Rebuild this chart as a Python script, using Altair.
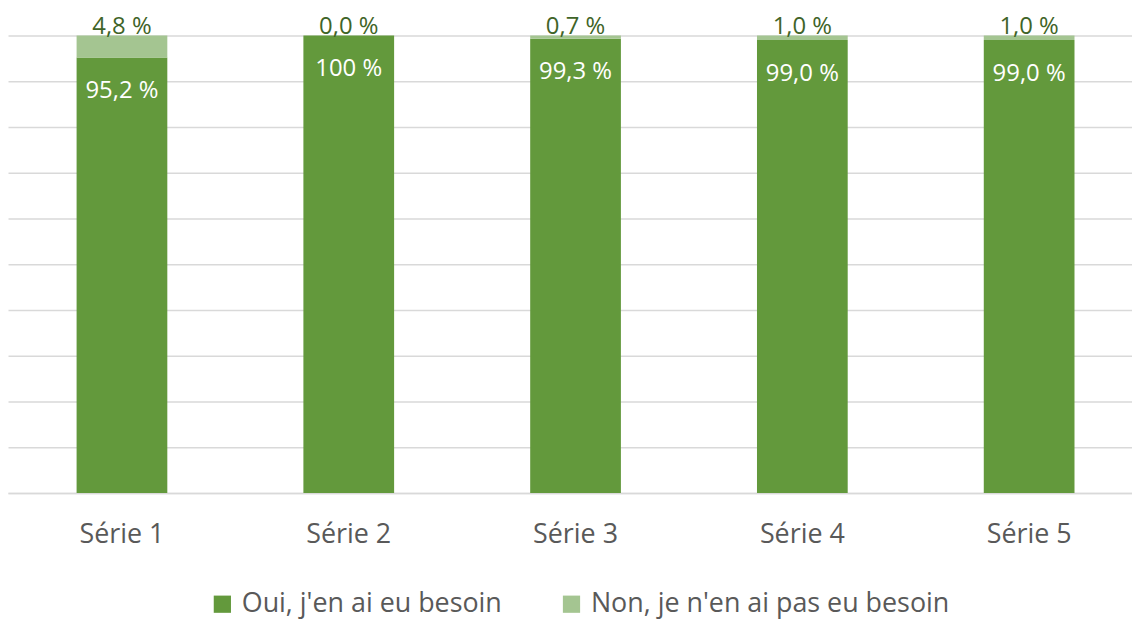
import altair as alt
import pandas as pd

categories = ["Série 1", "Série 2", "Série 3", "Série 4", "Série 5"]
oui_values = [95.2, 100.0, 99.3, 99.0, 99.0]
non_values = [4.8, 0.0, 0.7, 1.0, 1.0]
oui_labels = ["95,2 %", "100 %", "99,3 %", "99,0 %", "99,0 %"]
non_labels = ["4,8 %", "0,0 %", "0,7 %", "1,0 %", "1,0 %"]
series_names = ["Oui, j'en ai eu besoin", "Non, je n'en ai pas eu besoin"]
series_colors = ["#63993C", "#A4C591"]

rows = []
for c, ov, nv, ol, nl in zip(categories, oui_values, non_values, oui_labels, non_labels):
    rows.append({"serie": c, "reponse": series_names[0], "value": ov, "label": ol, "ord": 0, "total": ov + nv})
    rows.append({"serie": c, "reponse": series_names[1], "value": nv, "label": nl, "ord": 1, "total": ov + nv})
df = pd.DataFrame(rows)

FONT = "Open Sans"

x_enc = alt.X(
    "serie:N",
    sort=categories,
    title=None,
    scale=alt.Scale(paddingInner=0.6, paddingOuter=0.278, align=0.544),
    axis=alt.Axis(
        labelAngle=0,
        labelFont=FONT,
        labelFontSize=27,
        labelColor="#595959",
        labelPadding=50,
        labelBaseline="alphabetic",
        ticks=False,
        tickSize=0,
        domain=True,
        domainColor="#D9D9D9",
        domainWidth=1.5,
        grid=False,
    ),
)

bars = alt.Chart(df).mark_bar().encode(
    x=x_enc,
    y=alt.Y(
        "value:Q",
        stack="zero",
        scale=alt.Scale(domain=[0, 100], nice=False),
        title=None,
        axis=alt.Axis(
            values=[0, 10, 20, 30, 40, 50, 60, 70, 80, 90, 100],
            labels=False,
            ticks=False,
            domain=False,
            grid=True,
            gridColor="#D9D9D9",
            gridWidth=1.5,
        ),
    ),
    color=alt.Color(
        "reponse:N",
        scale=alt.Scale(domain=series_names, range=series_colors),
        legend=alt.Legend(
            title=None,
            orient="none",
            direction="horizontal",
            legendX=202,
            legendY=558,
            padding=0,
            symbolType="square",
            symbolSize=300,
            symbolStrokeWidth=0,
            labelFont=FONT,
            labelFontSize=27,
            labelColor="#595959",
            labelOffset=6,
            labelLimit=600,
            columnPadding=56,
        ),
    ),
    order=alt.Order("ord:Q", sort="ascending"),
)

inside = alt.Chart(df).transform_filter(alt.datum.ord == 0).mark_text(
    font=FONT, fontSize=24, color="#FFFFFF", baseline="alphabetic", dy=41
).encode(
    x=alt.X("serie:N", sort=categories),
    y=alt.Y("value:Q", stack=None),
    text="label:N",
)

top = alt.Chart(df).transform_filter(alt.datum.ord == 1).mark_text(
    font=FONT, fontSize=24, color="#3F6428", baseline="alphabetic", dy=-1
).encode(
    x=alt.X("serie:N", sort=categories),
    y=alt.Y("total:Q", stack=None),
    text="label:N",
)

chart = alt.layer(bars, inside, top).properties(
    width=1130,
    height=460,
    autosize=alt.AutoSizeParams(type="none"),
    padding={"left": 0, "top": 26, "right": 0, "bottom": 128},
    background="#FFFFFF",
).configure_view(stroke=None)

chart.save("out.html", embed_options={"renderer": "svg", "actions": False})
